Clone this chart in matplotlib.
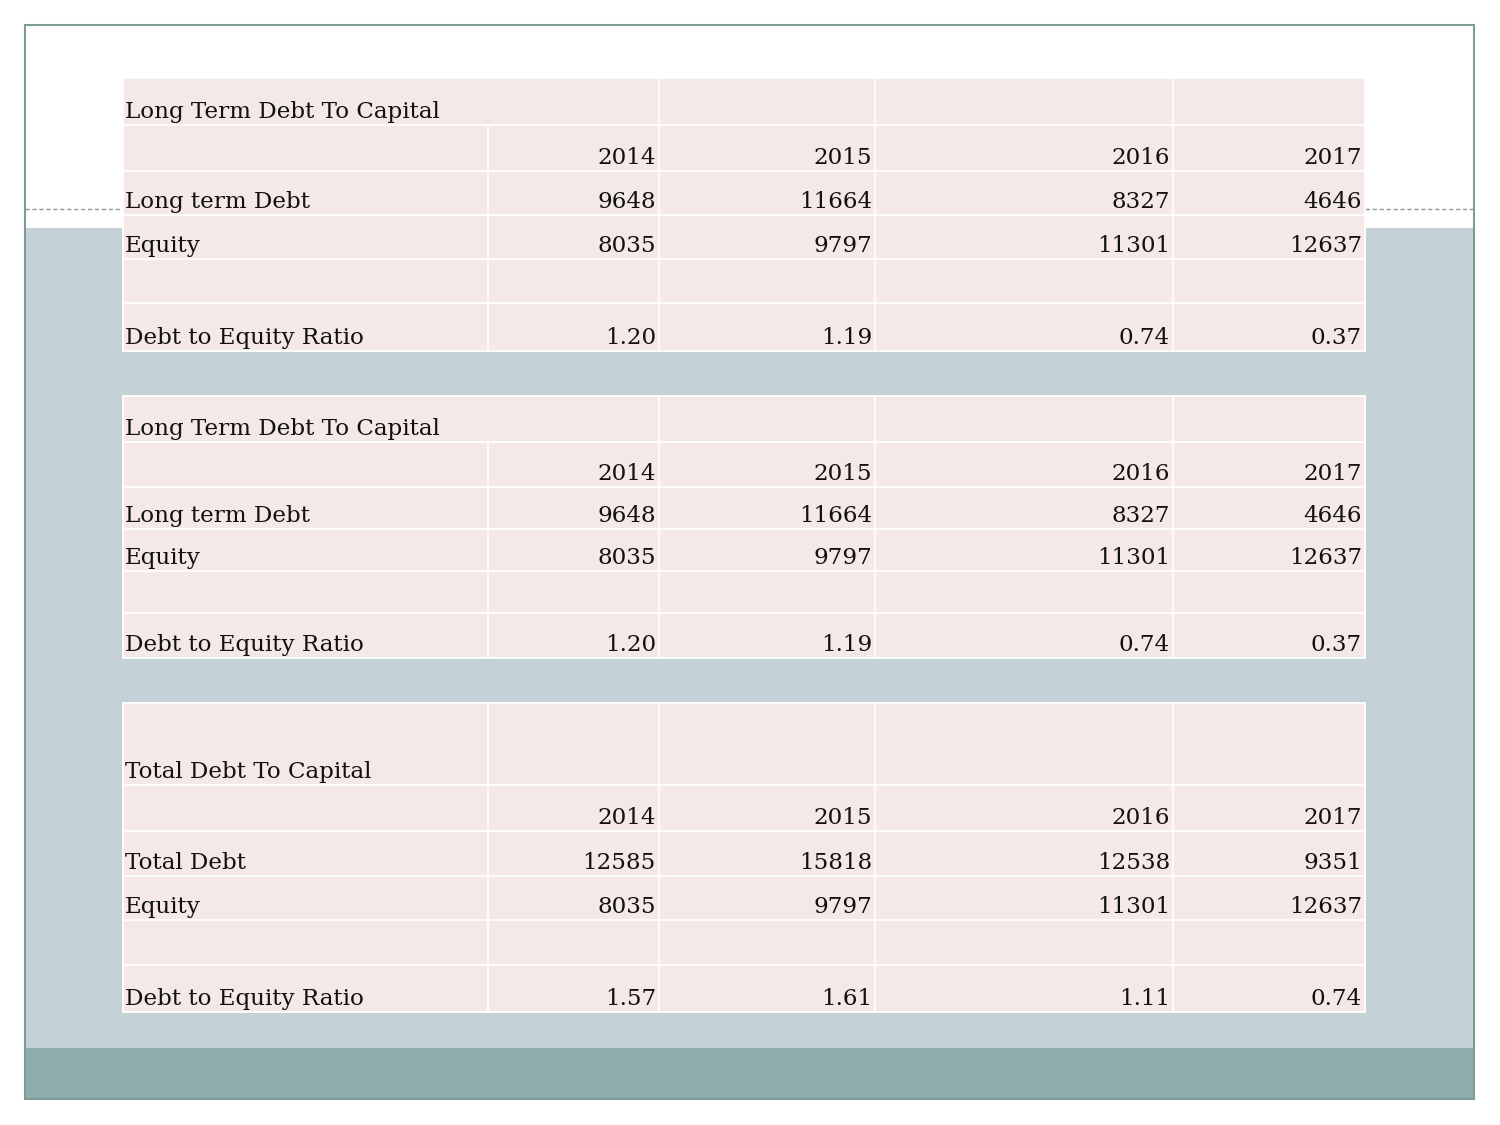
#!/usr/bin/env python3
"""Slide with three debt-to-capital tables, redrawn with matplotlib patches."""

import matplotlib

matplotlib.use("Agg")
import matplotlib.pyplot as plt
from matplotlib.patches import Rectangle

years = ["2014", "2015", "2016", "2017"]
lt_debt = [9648, 11664, 8327, 4646]
equity = [8035, 9797, 11301, 12637]
lt_ratio = ["1.20", "1.19", "0.74", "0.37"]
total_debt = [12585, 15818, 12538, 9351]
total_ratio = ["1.57", "1.61", "1.11", "0.74"]

CELL = "#f4e9e6"
GRID = "white"
FONT = "DejaVu Serif"
FS = 16.6

# column edges shared by all three tables (pixels)
col_x = [123, 488, 659, 875, 1173, 1365]


def draw_table(ax, row_y, title, label1, vals1, ratios, merge_title):
    rows = [
        [title, "", "", "", ""],
        [""] + years,
        [label1] + [str(v) for v in vals1],
        ["Equity"] + [str(v) for v in equity],
        ["", "", "", "", ""],
        ["Debt to Equity Ratio"] + ratios,
    ]
    ax.add_patch(Rectangle((col_x[0], row_y[0]), col_x[-1] - col_x[0], row_y[-1] - row_y[0],
                           facecolor=CELL, edgecolor=GRID, lw=1.3, zorder=2))
    for r in range(len(rows)):
        y0, y1 = row_y[r], row_y[r + 1]
        if r > 0:
            ax.plot([col_x[0], col_x[-1]], [y0, y0], color=GRID, lw=1.3, zorder=3)
        for c in range(1, len(col_x) - 1):
            if r == 0 and merge_title and c == 1:
                continue
            ax.plot([col_x[c], col_x[c]], [y0, y1], color=GRID, lw=1.3, zorder=3)
        for c, txt in enumerate(rows[r]):
            if not txt:
                continue
            if c == 0:
                ax.text(col_x[0] + 2, y1 - 7, txt, ha="left", va="baseline",
                        family=FONT, fontsize=FS, color="#111111", zorder=4)
            else:
                ax.text(col_x[c + 1] - 3, y1 - 7, txt, ha="right", va="baseline",
                        family=FONT, fontsize=FS, color="#111111", zorder=4)


fig = plt.figure(figsize=(15, 11.25), dpi=100)
ax = fig.add_axes([0, 0, 1, 1])
ax.set_xlim(0, 1500)
ax.set_ylim(1125, 0)
ax.axis("off")

# slide background
ax.add_patch(Rectangle((25, 228), 1449, 820, facecolor="#c4d1d6", edgecolor="none", zorder=0))
ax.add_patch(Rectangle((25, 1048), 1449, 51, facecolor="#8dadad", edgecolor="none", zorder=0))
ax.plot([25, 1474], [209, 209], color="#8a9a9a", lw=1, ls=(0, (3, 2)), zorder=1)
ax.add_patch(Rectangle((25, 25), 1449, 1074, facecolor="none", edgecolor="#809a9a", lw=1.5, zorder=5))

draw_table(ax, [78, 125, 171, 215, 259, 303, 351], "Long Term Debt To Capital",
           "Long term Debt", lt_debt, lt_ratio, True)
draw_table(ax, [396, 442, 487, 529, 571, 613, 658], "Long Term Debt To Capital",
           "Long term Debt", lt_debt, lt_ratio, True)
draw_table(ax, [703, 785, 831, 876, 920, 965, 1012], "Total Debt To Capital",
           "Total Debt", total_debt, total_ratio, False)

fig.savefig("out.png", dpi=100, facecolor="white")
